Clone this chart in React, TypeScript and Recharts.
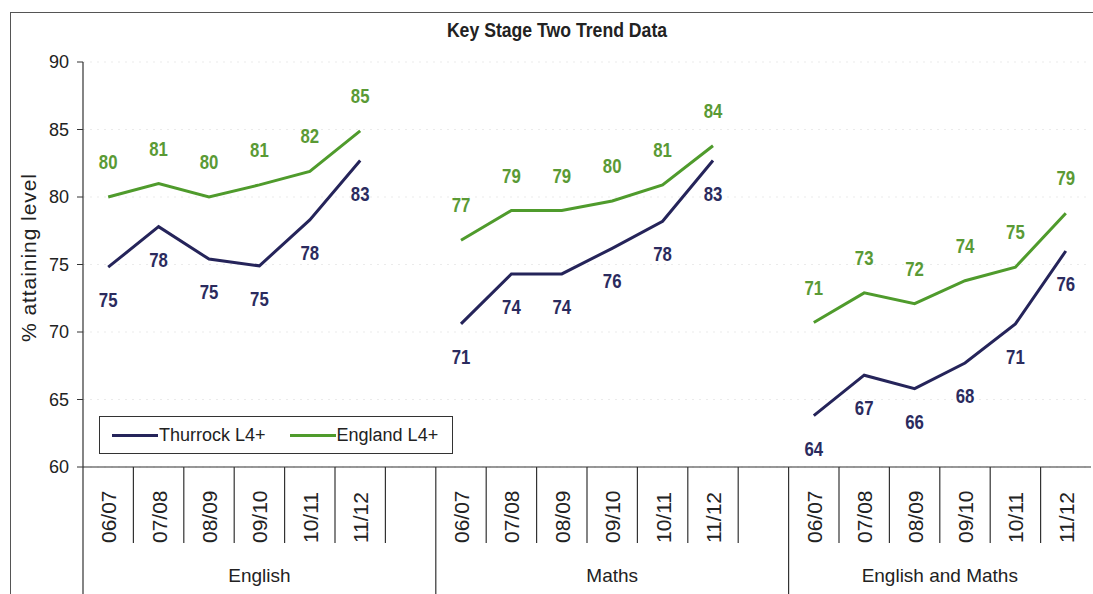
import React from 'react';
import { LineChart, Line, XAxis, YAxis, CartesianGrid, LabelList, Legend, Label } from 'recharts';

const chartTitle = 'Key Stage Two Trend Data';
const yAxisTitle = '% attaining level';
const years = ['06/07', '07/08', '08/09', '09/10', '10/11', '11/12'];
const subjects = ['English', 'Maths', 'English and Maths'];
const seriesNames = ['Thurrock L4+', 'England L4+'];
const yTicks = [60, 65, 70, 75, 80, 85, 90];

const thurrockEnglish = [74.8, 77.8, 75.4, 74.9, 78.3, 82.7];
const englandEnglish = [80.0, 81.0, 80.0, 80.9, 81.9, 84.9];
const thurrockMaths = [70.6, 74.3, 74.3, 76.2, 78.2, 82.7];
const englandMaths = [76.8, 79.0, 79.0, 79.7, 80.9, 83.8];
const thurrockEngMaths = [63.8, 66.8, 65.8, 67.7, 70.6, 76.0];
const englandEngMaths = [70.7, 72.9, 72.1, 73.8, 74.8, 78.8];

const thurrockBySubject = [thurrockEnglish, thurrockMaths, thurrockEngMaths];
const englandBySubject = [englandEnglish, englandMaths, englandEngMaths];

type Row = { key: string; year: string; group: number; start: boolean; thurrock: number | null; england: number | null };

const data: Row[] = [];
subjects.forEach((_, s) => {
  years.forEach((yr, i) => {
    data.push({ key: `${s}-${yr}`, year: yr, group: s, start: i === 0, thurrock: thurrockBySubject[s][i], england: englandBySubject[s][i] });
  });
  if (s < subjects.length - 1) {
    data.push({ key: `gap-${s}`, year: '', group: s, start: false, thurrock: null, england: null });
  }
});

const W = 1093;
const H = 594;
const PLOT_LEFT = 83;
const PLOT_RIGHT = 1091;
const PLOT_TOP = 62;
const PLOT_BOTTOM = 467;
const BW = (PLOT_RIGHT - PLOT_LEFT) / data.length;

const NAVY = '#25245a';
const GREEN = '#4f9b2c';
const NAVY_TEXT = '#2b2b5e';
const GREEN_TEXT = '#5a9a35';
const AXIS = '#333';
const SANS = "'Liberation Sans', Arial, sans-serif";

const groupSpan = (g: number) => data.filter((r) => r.group === g).length;

const XTick = (props: any) => {
  const { x, index } = props;
  const row = data[index];
  if (!row) return null;
  const left = x - BW / 2;
  const els: React.ReactNode[] = [];
  els.push(
    <line key="sep" x1={left} x2={left} y1={PLOT_BOTTOM} y2={row.start ? H : 543} stroke={AXIS} strokeWidth={1.2} />
  );
  if (row.year) {
    els.push(
      <text key="lbl" x={x + 8} y={543} transform={`rotate(-90 ${x + 8} 543)`} textAnchor="start" fontSize={21} fontFamily={SANS} fill="#222">
        {row.year}
      </text>
    );
  }
  if (row.start) {
    const span = groupSpan(row.group);
    const cx = x + ((span - 1) / 2) * BW;
    els.push(
      <text key="grp" x={cx} y={582} textAnchor="middle" fontSize={19} fontFamily={SANS} fill="#222">
        {subjects[row.group]}
      </text>
    );
  }
  return <g>{els}</g>;
};

const makeLabel = (color: string, dy: number) => (props: any) => {
  const { x, y, value } = props;
  if (value == null || x == null || y == null) return null;
  return (
    <text
      transform={`translate(${x} ${y + dy}) scale(0.84 1)`}
      x={0}
      y={0}
      textAnchor="middle"
      dominantBaseline="central"
      fontSize={20}
      fontWeight="bold"
      fontFamily={SANS}
      fill={color}
    >
      {Math.round(value)}
    </text>
  );
};

const LegendBox = () => (
  <div
    style={{
      border: '1.5px solid #333',
      height: 38,
      boxSizing: 'border-box',
      display: 'flex',
      alignItems: 'center',
      fontFamily: SANS,
      fontSize: 18,
      color: '#222',
      background: '#fff',
    }}
  >
    <span style={{ display: 'inline-block', width: 46, height: 3, background: NAVY, marginLeft: 12 }} />
    <span style={{ marginLeft: 1 }}>{seriesNames[0]}</span>
    <span style={{ display: 'inline-block', width: 46, height: 3, background: GREEN, marginLeft: 24 }} />
    <span style={{ marginLeft: 1 }}>{seriesNames[1]}</span>
  </div>
);

const YTitle = () => {
  const cx = 28;
  const cy = 258;
  return (
    <text x={cx} y={cy} transform={`rotate(-90 ${cx} ${cy})`} textAnchor="middle" dominantBaseline="central" fontSize={21} fontFamily={SANS} fill="#222" textLength={168} lengthAdjust="spacing">
      {yAxisTitle}
    </text>
  );
};

export default function App() {
  return (
    <div style={{ position: 'absolute', left: 0, top: 0, width: W, height: H, background: '#fff', overflow: 'hidden' }}>
      <div style={{ position: 'absolute', left: 10, top: 12, width: W, height: H, borderLeft: '1.5px solid #555', borderTop: '1.5px solid #555' }} />
      <div
        style={{
          position: 'absolute',
          left: 257,
          top: 18,
          width: 600,
          textAlign: 'center',
          fontFamily: SANS,
          fontWeight: 'bold',
          fontSize: 21,
          color: '#222',
          lineHeight: '24px',
          transform: 'scaleX(0.84)',
          transformOrigin: '300px 12px',
        }}
      >
        {chartTitle}
      </div>
      <div style={{ position: 'absolute', left: 0, top: 0 }}>
        <LineChart width={W} height={H} data={data} margin={{ top: PLOT_TOP, right: W - PLOT_RIGHT, bottom: 0, left: 0 }}>
          <CartesianGrid horizontal vertical={false} stroke="#ebebeb" strokeDasharray="2 5" />
          <XAxis dataKey="key" scale="band" interval={0} height={H - PLOT_BOTTOM} tick={<XTick />} tickLine={false} axisLine={{ stroke: AXIS, strokeWidth: 1.2 }} />
          <XAxis xAxisId="top" orientation="top" dataKey="key" scale="band" height={0} tick={false} tickLine={false} axisLine={{ stroke: AXIS, strokeWidth: 1.2 }} />
          <YAxis
            domain={[60, 90]}
            ticks={yTicks}
            type="number"
            width={PLOT_LEFT}
            tickSize={6}
            tickMargin={8}
            tick={{ fontSize: 18, fill: '#222', fontFamily: SANS }}
            tickLine={{ stroke: AXIS }}
            axisLine={{ stroke: AXIS, strokeWidth: 1.2 }}
            label={<Label content={<YTitle />} />}
          />
          <YAxis yAxisId="right" orientation="right" domain={[60, 90]} type="number" width={0} tick={false} tickLine={false} axisLine={{ stroke: AXIS, strokeWidth: 1.2 }} />
          <Legend
            layout="horizontal"
            verticalAlign="middle"
            align="center"
            wrapperStyle={{ position: 'absolute', left: 99, top: 416, width: 354, height: 38 }}
            content={<LegendBox />}
          />
          <Line dataKey="thurrock" name={seriesNames[0]} stroke={NAVY} strokeWidth={3} dot={false} isAnimationActive={false} connectNulls={false}>
            <LabelList dataKey="thurrock" content={makeLabel(NAVY_TEXT, 33)} />
          </Line>
          <Line dataKey="england" name={seriesNames[1]} stroke={GREEN} strokeWidth={3} dot={false} isAnimationActive={false} connectNulls={false}>
            <LabelList dataKey="england" content={makeLabel(GREEN_TEXT, -35)} />
          </Line>
        </LineChart>
      </div>
    </div>
  );
}
